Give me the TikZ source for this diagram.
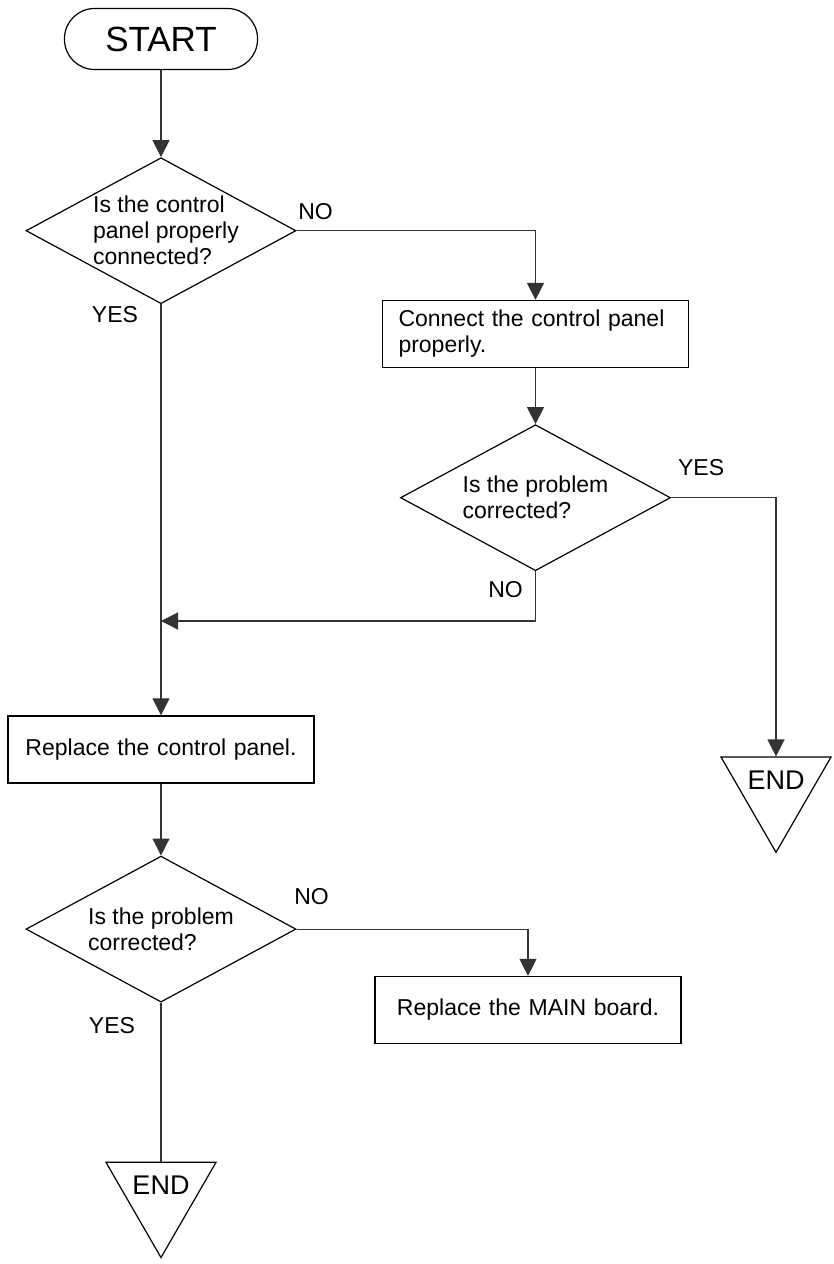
\documentclass[tikz,border=0pt]{standalone}
\usepackage{fontspec}
\setmainfont{Liberation Sans}
\usetikzlibrary{arrows.meta,positioning,shapes.geometric}

\begin{document}
\begin{tikzpicture}[node distance=30pt, auto,
		txt/.style={font=\fontsize{11.5}{13}\selectfont},
		terminal/.style={rectangle, draw, rounded corners=15pt, minimum width=96.5pt, minimum height=30.5pt, font=\fontsize{17.5}{20}\selectfont},
		block/.style={rectangle, draw, txt, text width=137pt, inner xsep=8pt, minimum height=33.5pt, align=center},
		decision/.style={diamond, draw, inner sep=0pt, minimum width=135pt, minimum height=73pt},
		endblock/.style={regular polygon, regular polygon sides=3, shape border rotate=180, draw, inner sep=0pt, minimum size=63.5pt},
		lbl/.style={txt, inner sep=0pt},
		line/.style={draw, black!80, line width=0.6pt, -{Triangle[width=8.5pt,length=8.5pt]}}]
		\useasboundingbox (0,0) rectangle (417pt,-632pt);
		\tikzset{every path/.style={line width=0.6pt}}

		% Nodes
		\node [terminal] (start) at (80.5pt,-19.5pt) {START};
		\node [decision, below=43.5pt of start,
			label={[txt, align=left, xshift=2.5pt]center:{Is the control\\panel properly\\connected?}}] (dec1) {};
		\node [block, align=left] (fix1) at (267.75pt,-167pt) {Connect the control panel\\properly.};
		\node [decision, below=28pt of fix1,
			label={[txt, align=left]center:{Is the problem\\corrected?}}] (dec2) {};
		\node [endblock, label={[yshift=4.5pt, font=\fontsize{13.5}{15}\selectfont]center:END}] (end2) at (388pt,-394.4pt) {};
		\node [block, below=205.5pt of dec1] (repl) {Replace the control panel.};
		\node [decision, below=36pt of repl,
			label={[txt, align=left]center:{Is the problem\\corrected?}}] (dec3) {};
		\node [block] (mainb) at (264pt,-505pt) {Replace the MAIN board.};
		\node [endblock, below=79.5pt of dec3, label={[yshift=4.5pt, font=\fontsize{13.5}{15}\selectfont]center:END}] (end1) {};
		\coordinate (join) at (80.5pt,-310.5pt);

		% Branch labels
		\node [lbl] (no1) at ([xshift=9.5pt,yshift=9.5pt]dec1.east) {NO};
		\node [lbl] (yes1) at ([xshift=-23pt,yshift=-5pt]dec1.south) {YES};
		\node [lbl] (yes2) at ([xshift=15pt,yshift=15pt]dec2.east) {YES};
		\node [lbl] (no2) at ([xshift=-15pt,yshift=-9pt]dec2.south) {NO};
		\node [lbl] (no3) at ([xshift=7.5pt,yshift=16.5pt]dec3.east) {NO};
		\node [lbl] (yes3) at ([xshift=-24.5pt,yshift=-11.5pt]dec3.south) {YES};

		% Paths
		\path [line] (start) -- (dec1);
		\path [line] (dec1.east) -| (fix1.north);
		\path [line] (fix1) -- (dec2);
		\path [line] (dec2.east) -| (end2.north);
		\path [line] (dec2.south) |- (join);
		\path [line] (dec1.south) -- (repl);
		\path [line] (repl) -- (dec3);
		\path [line] (dec3.east) -| (mainb.north);
		\draw [black!80] (dec3.south) -- (end1.north);
	\end{tikzpicture}
\end{document}
